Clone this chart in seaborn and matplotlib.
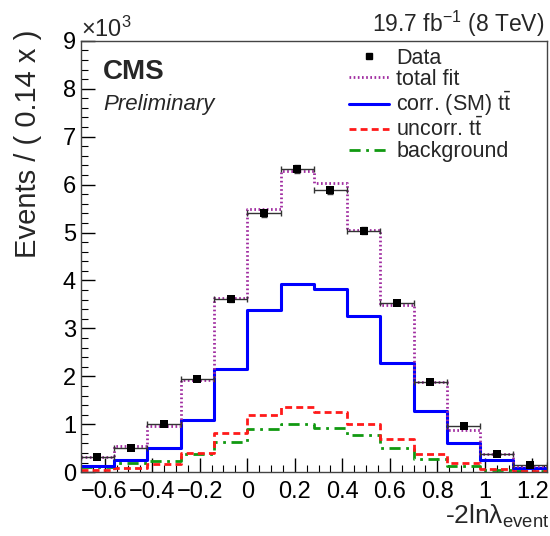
import numpy as np
import pandas as pd
import seaborn as sns
import matplotlib
matplotlib.use("Agg")
import matplotlib.pyplot as plt
from matplotlib.lines import Line2D
from matplotlib.ticker import MultipleLocator

sns.set_theme(style="ticks")
plt.rcParams['font.family'] = ['Liberation Sans', 'DejaVu Sans']
plt.rcParams['mathtext.fontset'] = 'custom'
plt.rcParams['mathtext.rm'] = 'Liberation Sans'
plt.rcParams['mathtext.it'] = 'Liberation Sans:italic'
plt.rcParams['mathtext.bf'] = 'Liberation Sans:bold'

# bins of -2ln(lambda_event), width 0.14
bin_edges = [-0.70, -0.56, -0.42, -0.28, -0.14, 0.00, 0.14, 0.28, 0.42,
             0.56, 0.70, 0.84, 0.98, 1.12, 1.26]
bin_centers = [-0.63, -0.49, -0.35, -0.21, -0.07, 0.07, 0.21, 0.35, 0.49,
               0.63, 0.77, 0.91, 1.05, 1.19]

# events per bin
data = [320, 510, 1010, 1950, 3620, 5400, 6330, 5880, 5040, 3540, 1890, 960, 390, 160]
total_fit = [320, 550, 970, 1930, 3630, 5500, 6280, 6030, 5050, 3480, 1890, 880, 390, 140]
corr_sm = [140, 260, 510, 1080, 2160, 3380, 3920, 3830, 3260, 2270, 1270, 610, 260, 85]
uncorr = [40, 85, 180, 410, 810, 1200, 1360, 1260, 1010, 690, 390, 190, 70, 35]
background = [100, 190, 230, 380, 630, 900, 1000, 930, 770, 510, 270, 120, 50, 20]

df = pd.DataFrame({'x': bin_centers, 'data': data, 'fit': total_fit,
                   'corr': corr_sm, 'uncorr': uncorr, 'bkg': background})
for c in ['data', 'fit', 'corr', 'uncorr', 'bkg']:
    df[c + '_k'] = df[c] / 1000.0

purple = '#a02ca0'
blue = '#0000ff'
red = '#ff1a1a'
green = '#119911'

fig = plt.figure(figsize=(5.5, 5.36), dpi=100)
ax = fig.add_axes([0.147, 0.119, 0.847, 0.805])

sns.histplot(data=df, x='x', weights='bkg_k', bins=bin_edges, element='step', fill=False,
             color=green, linewidth=2.0, linestyle=(0, (4, 2, 1, 2)), ax=ax)
sns.histplot(data=df, x='x', weights='uncorr_k', bins=bin_edges, element='step', fill=False,
             color=red, linewidth=2.0, linestyle=(0, (2.5, 1.5)), ax=ax)
sns.histplot(data=df, x='x', weights='corr_k', bins=bin_edges, element='step', fill=False,
             color=blue, linewidth=2.2, ax=ax)
sns.histplot(data=df, x='x', weights='fit_k', bins=bin_edges, element='step', fill=False,
             color=purple, linewidth=2.0, linestyle=(0, (0.6, 0.9)), ax=ax)

# data points with bin-width horizontal bars
ax.errorbar(df['x'], df['data_k'], xerr=0.07, yerr=np.sqrt(df['data']) / 1000.0,
            fmt='none', ecolor='#333333', elinewidth=1.0, capsize=2, zorder=5)
sns.scatterplot(data=df, x='x', y='data_k', marker='s', color='black', s=40,
                edgecolor='black', linewidth=0, zorder=6, ax=ax)

ax.set_xlim(-0.70, 1.26)
ax.set_ylim(0, 9)
ax.xaxis.set_major_locator(MultipleLocator(0.2))
ax.xaxis.set_minor_locator(MultipleLocator(0.05))
ax.yaxis.set_major_locator(MultipleLocator(1))
ax.yaxis.set_minor_locator(MultipleLocator(0.2))
ax.set_xticks([-0.6, -0.4, -0.2, 0, 0.2, 0.4, 0.6, 0.8, 1.0, 1.2])
ax.set_xticklabels(['\u22120.6', '\u22120.4', '\u22120.2', '0', '0.2', '0.4', '0.6',
                    '0.8', '1', '1.2'])
ax.tick_params(axis='both', which='both', direction='in', labelsize=17, colors='black')
ax.tick_params(axis='both', which='major', length=10, width=1)
ax.tick_params(axis='both', which='minor', length=5, width=0.8)
ax.tick_params(axis='x', pad=6)
for sp in ax.spines.values():
    sp.set_visible(True)
    sp.set_linewidth(1.0)
    sp.set_color('#444444')

ax.set_xlabel('')
ax.set_ylabel('Events / ( 0.14 x )', fontsize=21, loc='top')
ax.yaxis.set_label_coords(-0.084, 1.026)

fig.text(549 / 550, 1 - 524 / 536, '-2ln\u03bb$_{\\mathrm{event}}$', fontsize=19,
         ha='right', va='baseline')
fig.text(81 / 550, 1 - 37 / 536, '\u00d710$^{3}$', fontsize=17, ha='left', va='baseline')
fig.text(544 / 550, 1 - 32 / 536, '19.7 fb$^{-1}$ (8 TeV)', fontsize=16.5,
         ha='right', va='baseline')
fig.text(103 / 550, 1 - 79 / 536, 'CMS', fontsize=20, fontweight='bold',
         ha='left', va='baseline')
fig.text(103 / 550, 1 - 110 / 536, 'Preliminary', fontsize=16, fontstyle='italic',
         ha='left', va='baseline')

handles = [
    Line2D([], [], marker='s', ls='none', color='black', ms=5),
    Line2D([], [], color=purple, lw=2.0, ls=(0, (0.6, 0.9))),
    Line2D([], [], color=blue, lw=2.2),
    Line2D([], [], color=red, lw=2.0, ls=(0, (2.5, 1.5))),
    Line2D([], [], color=green, lw=2.0, ls=(0, (4, 2, 1, 2))),
]
labels = ['Data', 'total fit', 'corr. (SM) $\\mathrm{t\\bar{t}}$',
          'uncorr. $\\mathrm{t\\bar{t}}$', 'background']
leg = ax.legend(handles, labels, loc='upper left', bbox_to_anchor=(349 / 550, 1 - 48 / 536),
                bbox_transform=fig.transFigure, frameon=False, fontsize=15.5,
                handlelength=1.85, handletextpad=0.35, labelspacing=0.0,
                borderpad=0, borderaxespad=0)

fig.savefig('out.png', dpi=100)
